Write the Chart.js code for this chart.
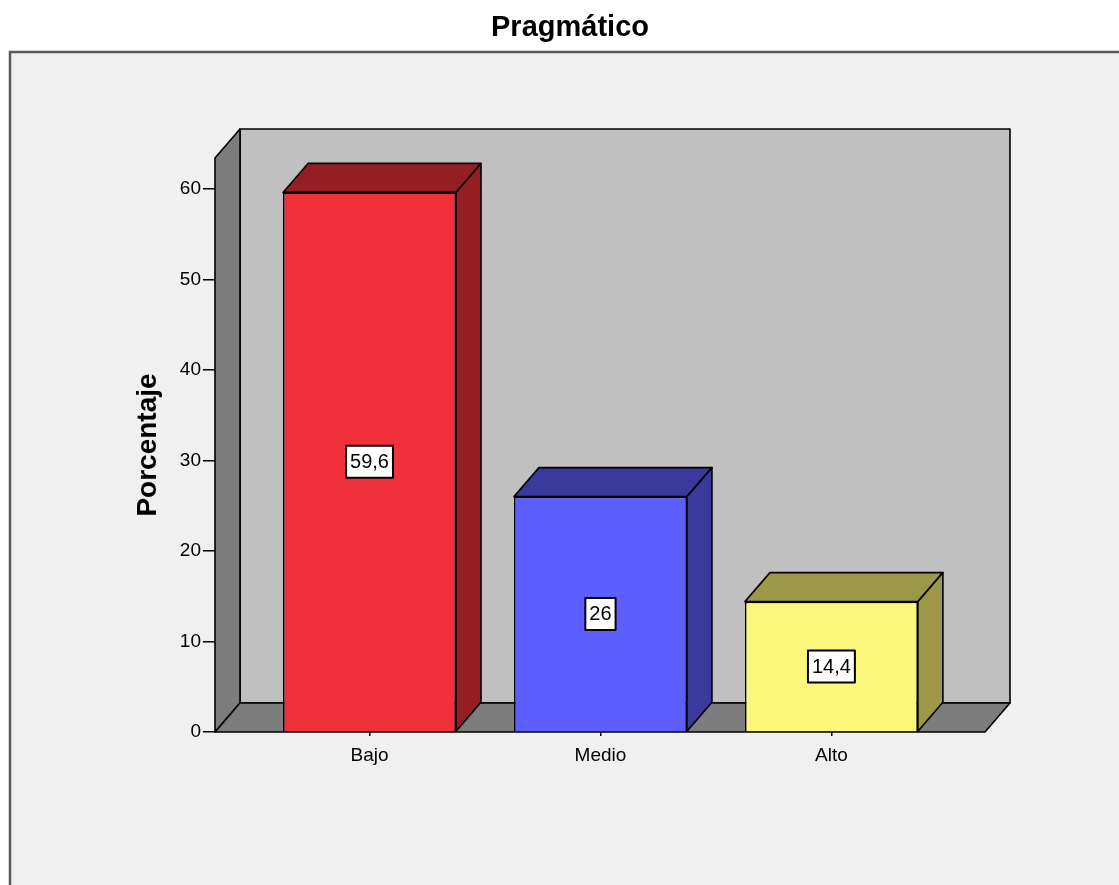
<!DOCTYPE html>
<html>
<head>
<meta charset="utf-8">
<script src="https://cdn.jsdelivr.net/npm/chart.js@4"></script>
<style>
  html, body { margin: 0; padding: 0; background: #ffffff; }
  #wrap { width: 1119px; height: 885px; position: relative; }
</style>
</head>
<body>
<div id="wrap"><canvas id="myChart"></canvas></div>
<script>
const categories = ['Bajo', 'Medio', 'Alto'];
const percentages = [59.6, 26, 14.4];
const yTicks = [0, 10, 20, 30, 40, 50, 60];

const frontColors = ['#f0313b', '#5c5eff', '#fbf77a'];
const sideColors = ['#951e24', '#393a9c', '#9c9847'];

// depth of the 3D box (back wall offset from the front plane)
const DEPTH_X = 25;
const DEPTH_Y = -29;

function poly(ctx, pts, fill) {
    ctx.beginPath();
    ctx.moveTo(pts[0][0], pts[0][1]);
    for (let i = 1; i < pts.length; i++) ctx.lineTo(pts[i][0], pts[i][1]);
    ctx.closePath();
    ctx.fillStyle = fill;
    ctx.fill();
    ctx.stroke();
}

const framePlugin = {
    id: 'frame',
    beforeDraw(chart) {
        const ctx = chart.ctx;
        ctx.save();
        ctx.fillStyle = '#ffffff';
        ctx.fillRect(0, 0, chart.width, chart.height);
        ctx.fillStyle = '#f0f0f0';
        ctx.fillRect(10, 52, chart.width, chart.height);
        ctx.strokeStyle = '#5a5a5a';
        ctx.lineWidth = 2.5;
        ctx.strokeRect(10, 52, chart.width + 20, chart.height + 20);
        ctx.restore();
    },
    beforeDatasetsDraw(chart) {
        const ctx = chart.ctx;
        const a = chart.chartArea;
        ctx.save();
        ctx.strokeStyle = '#000000';
        ctx.lineWidth = 1.6;
        ctx.lineJoin = 'round';
        // back wall
        poly(ctx, [
            [a.left + DEPTH_X, a.top + DEPTH_Y], [a.right + DEPTH_X, a.top + DEPTH_Y],
            [a.right + DEPTH_X, a.bottom + DEPTH_Y], [a.left + DEPTH_X, a.bottom + DEPTH_Y]
        ], '#c0c0c0');
        // left wall
        poly(ctx, [
            [a.left, a.top], [a.left + DEPTH_X, a.top + DEPTH_Y],
            [a.left + DEPTH_X, a.bottom + DEPTH_Y], [a.left, a.bottom]
        ], '#7d7d7d');
        // floor
        poly(ctx, [
            [a.left, a.bottom], [a.left + DEPTH_X, a.bottom + DEPTH_Y],
            [a.right + DEPTH_X, a.bottom + DEPTH_Y], [a.right, a.bottom]
        ], '#7d7d7d');
        ctx.restore();
    },
    afterDatasetsDraw(chart) {
        const ctx = chart.ctx;
        const meta = chart.getDatasetMeta(0);
        ctx.save();
        ctx.strokeStyle = '#000000';
        ctx.lineWidth = 1.6;
        ctx.lineJoin = 'round';
        meta.data.forEach((bar, i) => {
            const l = bar.x - bar.width / 2;
            const r = bar.x + bar.width / 2;
            const t = bar.y;
            const b = bar.base;
            // top face
            poly(ctx, [[l, t], [l + DEPTH_X, t + DEPTH_Y], [r + DEPTH_X, t + DEPTH_Y], [r, t]], sideColors[i]);
            // right face
            poly(ctx, [[r, t], [r + DEPTH_X, t + DEPTH_Y], [r + DEPTH_X, b + DEPTH_Y], [r, b]], sideColors[i]);

            // value label box in the middle of the front face
            const text = String(percentages[i]).replace('.', ',');
            ctx.font = '20px "Liberation Sans", Arial, sans-serif';
            const w = ctx.measureText(text).width + 8;
            const h = 32;
            const cx = bar.x;
            const cy = (t + b) / 2;
            ctx.fillStyle = '#ffffff';
            ctx.fillRect(cx - w / 2, cy - h / 2, w, h);
            ctx.lineWidth = 2;
            ctx.strokeRect(cx - w / 2, cy - h / 2, w, h);
            ctx.lineWidth = 1.6;
            ctx.fillStyle = '#000000';
            ctx.textAlign = 'center';
            ctx.textBaseline = 'middle';
            ctx.fillText(text, cx, cy + 1);
        });
        ctx.restore();
    }
};

Chart.defaults.color = '#000000';
Chart.defaults.font.family = '"Liberation Sans", Arial, sans-serif';

new Chart(document.getElementById('myChart'), {
    type: 'bar',
    data: {
        datasets: [{
            label: 'Porcentaje',
            data: percentages.map((v, i) => ({ x: i + 1, y: v })),
            backgroundColor: frontColors,
            borderColor: '#000000',
            borderWidth: 1.6,
            categoryPercentage: 1,
            barPercentage: 0.749
        }]
    },
    options: {
        responsive: true,
        maintainAspectRatio: false,
        animation: false,
        layout: { padding: { left: 0, right: -21, top: 0, bottom: 0 } },
        plugins: {
            legend: { display: false },
            tooltip: { enabled: false },
            title: {
                display: true,
                text: 'Pragmático',
                color: '#000000',
                font: { size: 29, weight: 'bold' },
                padding: { top: 11, bottom: 112.2 }
            }
        },
        scales: {
            x: {
                type: 'linear',
                min: 0.331,
                max: 3.665,
                offset: false,
                afterBuildTicks: (scale) => {
                    scale.ticks = categories.map((c, i) => ({ value: i + 1 }));
                },
                afterFit: (scale) => { scale.height = 153; },
                ticks: {
                    font: { size: 19 },
                    padding: 8,
                    callback: (v) => categories[v - 1]
                },
                grid: { offset: false, drawOnChartArea: false, tickLength: 4, color: '#000000', lineWidth: 1.5 },
                border: { display: false }
            },
            y: {
                min: 0,
                max: 63.4,
                afterBuildTicks: (scale) => {
                    scale.ticks = yTicks.map(v => ({ value: v }));
                },
                afterFit: (scale) => { scale.width = 215; },
                ticks: { font: { size: 19 }, padding: 2, includeBounds: false },
                grid: { drawOnChartArea: false, tickLength: 12, color: '#000000', lineWidth: 1.5 },
                border: { display: false },
                title: {
                    display: true,
                    text: 'Porcentaje',
                    font: { size: 28, weight: 'bold' },
                    padding: { top: 131.5, bottom: 0 }
                }
            },
            // empty axis that reserves the margin on the right of the plot
            yRight: {
                position: 'right',
                afterFit: (scale) => { scale.width = 155; },
                ticks: { display: false },
                grid: { display: false },
                border: { display: false }
            }
        }
    },
    plugins: [framePlugin]
});
</script>
</body>
</html>
